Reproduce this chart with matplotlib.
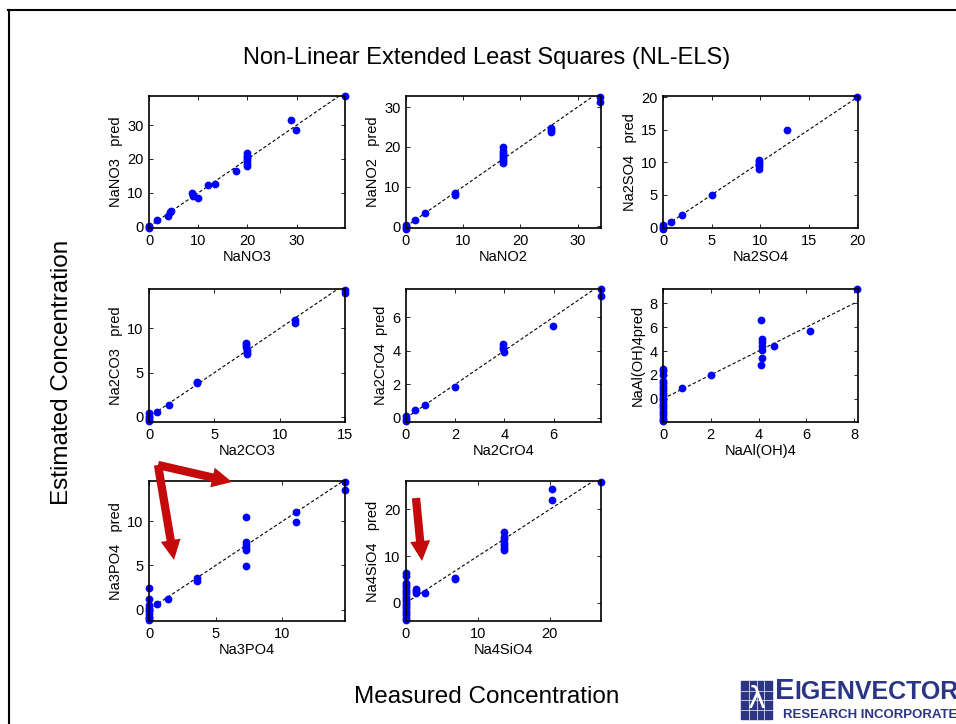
import matplotlib.pyplot as plt
from matplotlib.patches import FancyArrowPatch, Rectangle, ArrowStyle
from matplotlib.lines import Line2D
from matplotlib.ticker import MultipleLocator

plt.rcParams['font.family'] = ['Liberation Sans', 'DejaVu Sans']

W, H = 956, 724

# measured vs. predicted concentration for each component
names = ['NaNO3', 'NaNO2', 'Na2SO4', 'Na2CO3', 'Na2CrO4', 'NaAl(OH)4', 'Na3PO4', 'Na4SiO4']
ylabels = ['NaNO3   pred', 'NaNO2   pred', 'Na2SO4   pred', 'Na2CO3   pred',
           'Na2CrO4  pred', 'NaAl(OH)4pred', 'Na3PO4   pred', 'Na4SiO4   pred']

nano3_meas = [0, 0, 0, 1.7, 3.9, 4.2, 4.4, 8.8, 8.9, 9.0, 9.9, 12.0, 13.4, 17.7,
              19.9, 19.9, 19.9, 19.9, 19.9, 20.0, 20.0, 28.8, 29.9, 39.8]
nano3_pred = [-0.3, 0.0, 0.3, 2.1, 3.0, 4.4, 4.7, 10.0, 9.4, 9.0, 8.5, 12.2, 12.6, 16.5,
              21.8, 21.0, 20.0, 19.5, 18.5, 17.8, 20.5, 31.4, 28.6, 38.6]

nano2_meas = [0, 0, 0, 1.6, 3.4, 8.5, 8.5, 16.9, 16.9, 16.9, 16.9, 16.9, 16.9, 16.9, 17.0,
              25.4, 25.4, 25.4, 34.0, 34.0]
nano2_pred = [0.4, -0.1, -0.6, 1.7, 3.3, 7.9, 8.4, 19.9, 19.0, 18.5, 18.0, 17.5, 17.0, 16.5, 15.9,
              24.8, 24.3, 23.7, 32.6, 31.2]

na2so4_meas = [0, 0, 0, 0.8, 1.96, 5.0, 9.9, 9.9, 9.9, 9.9, 9.9, 12.8, 20.0]
na2so4_pred = [-0.3, 0.0, 0.3, 0.87, 1.94, 4.9, 10.4, 10.1, 9.7, 9.4, 9.0, 14.9, 20.05]

na2co3_meas = [0, 0, 0, 0, 0, 0.64, 1.5, 3.7, 3.7, 7.45, 7.45, 7.45, 7.5, 7.5, 7.5,
               11.2, 11.2, 15.0, 15.0]
na2co3_pred = [-0.5, -0.3, -0.1, 0.1, 0.4, 0.57, 1.4, 3.8, 3.9, 8.3, 8.1, 7.9, 7.6, 7.3, 7.1,
               11.0, 10.6, 14.3, 14.0]

na2cro4_meas = [0, 0, 0, 0.35, 0.79, 1.99, 3.95, 3.95, 3.95, 3.97, 5.96, 7.93, 7.93]
na2cro4_pred = [-0.2, -0.05, 0.1, 0.45, 0.75, 1.85, 4.37, 4.2, 4.1, 3.9, 5.47, 7.65, 7.26]

naaloh4_meas = [0] * 22 + [0.8, 2.0, 4.1, 4.15, 4.15, 4.15, 4.15, 4.15, 4.1, 4.65, 6.15, 8.13]
naaloh4_pred = [2.5, 2.3, 2.0, 1.5, 1.3, 1.1, 0.9, 0.7, 0.5, 0.3, 0.1, 0.0, -0.2, -0.4,
                -0.6, -0.8, -1.0, -1.2, -1.4, -1.6, -1.75, -1.9,
                0.9, 2.0, 6.6, 5.0, 4.75, 4.4, 4.1, 3.45, 2.8, 4.45, 5.67, 9.2]

na3po4_meas = [0] * 10 + [0.6, 1.46, 3.63, 3.63, 7.28, 7.3, 7.3, 7.3, 7.3, 7.28,
                          11.0, 11.0, 14.7, 14.7]
na3po4_pred = [2.4, 1.2, 0.5, 0.2, 0.0, -0.2, -0.5, -0.8, -1.0, -1.2,
               0.6, 1.25, 3.6, 3.2, 10.45, 7.6, 7.3, 7.0, 6.8, 4.9,
               11.05, 9.9, 14.45, 13.5]

na4sio4_meas = [0] * 19 + [1.4, 1.4, 1.4, 2.7, 6.8, 6.8, 13.6, 13.6, 13.6, 13.6, 13.6, 13.6, 13.6,
                           20.3, 20.3, 27.15]
na4sio4_pred = [6.3, 5.7, 4.3, 3.8, 3.3, 2.8, 2.3, 1.8, 1.3, 0.8, 0.3, -0.2, -0.7, -1.2,
                -1.7, -2.2, -2.7, -3.2, -3.7,
                3.0, 2.6, 2.0, 2.0, 5.35, 5.0, 15.1, 14.1, 13.6, 12.9, 12.3, 11.7, 11.3,
                24.4, 22.0, 25.9]

meas = [nano3_meas, nano2_meas, na2so4_meas, na2co3_meas,
        na2cro4_meas, naaloh4_meas, na3po4_meas, na4sio4_meas]
pred = [nano3_pred, nano2_pred, na2so4_pred, na2co3_pred,
        na2cro4_pred, naaloh4_pred, na3po4_pred, na4sio4_pred]

xlims = [(0, 39.8), (0, 34.1), (0, 20.07), (0, 15.0), (0, 7.93), (0, 8.16), (0, 14.7), (0, 27.15)]
ylims = [(-0.4, 38.6), (-0.4, 32.8), (-0.1, 20.2), (-0.57, 14.45), (-0.24, 7.67),
         (-1.95, 9.2), (-1.3, 14.57), (-3.9, 26.1)]
steps = [10, 10, 5, 5, 2, 2, 5, 10]

# axes boxes in pixels: left, right, top, bottom
cols = [(149, 345), (406, 601), (663, 858)]
rows = [(96, 228), (289, 422), (481, 621)]

fig = plt.figure(figsize=(W / 100, H / 100), dpi=100)

for i in range(len(names)):
    l, r = cols[i % 3]
    t, b = rows[i // 3]
    ax = fig.add_axes([l / W, 1 - b / H, (r - l) / W, (b - t) / H])
    top = max(meas[i])
    ax.plot([0, top], [0, top], '--', color='black', lw=0.8, dashes=(3, 2))
    ax.plot(meas[i], pred[i], 'o', color='#0000ff', ms=4.6, mec='#0000ff', clip_on=False)
    ax.set_xlim(xlims[i])
    ax.set_ylim(ylims[i])
    ax.xaxis.set_major_locator(MultipleLocator(steps[i]))
    ax.yaxis.set_major_locator(MultipleLocator(steps[i]))
    ax.tick_params(direction='in', top=True, right=True, length=3, width=0.6,
                   labelsize=10.5, pad=4)
    for s in ax.spines.values():
        s.set_linewidth(1.2)
    ax.set_xlabel(names[i], fontsize=10.5, labelpad=2)
    ax.set_ylabel(ylabels[i], fontsize=10.5, labelpad=3)

fig.text(487 / W, 1 - 58 / H, 'Non-Linear Extended Least Squares (NL-ELS)',
         ha='center', va='center', fontsize=17)
fig.text(62 / W, 1 - 372 / H, 'Estimated Concentration', rotation=90,
         ha='center', va='center', fontsize=17.5)
fig.text(487 / W, 1 - 697 / H, 'Measured Concentration',
         ha='center', va='center', fontsize=17.5)

# red arrows
arrows = [((158, 465), (232, 482)), ((158, 465), (174, 560)), ((416, 498), (422, 561))]
style = ArrowStyle.Simple(head_length=1.2, head_width=1.2, tail_width=0.5)
for (x1, y1), (x2, y2) in arrows:
    fig.add_artist(FancyArrowPatch((x1 / W, 1 - y1 / H), (x2 / W, 1 - y2 / H),
                                   transform=fig.transFigure, arrowstyle=style,
                                   mutation_scale=12, color='#c40a0a', lw=0,
                                   shrinkA=0, shrinkB=0))

# slide frame
fig.add_artist(Line2D([8.5 / W, 8.5 / W], [0, 1 - 10 / H], color='black', lw=1.5,
                      transform=fig.transFigure))
fig.add_artist(Line2D([8 / W, 1], [1 - 10 / H, 1 - 10 / H], color='black', lw=1.5,
                      transform=fig.transFigure))

# logo
navy = '#2b3585'
fig.add_artist(Rectangle((741 / W, 1 - 719 / H), 31 / W, 38 / H, color=navy,
                         transform=fig.transFigure))
for k in range(1, 4):
    fig.add_artist(Line2D([(741 + k * 7.75) / W] * 2, [1 - 719 / H, 1 - 681 / H],
                          color='white', lw=0.5, transform=fig.transFigure))
    fig.add_artist(Line2D([741 / W, 772 / W], [1 - (681 + k * 9.5) / H] * 2,
                          color='white', lw=0.5, transform=fig.transFigure))
fig.text(756 / W, 1 - 700 / H, 'λ', color='white', fontsize=22, ha='center', va='center',
         family='DejaVu Sans')
fig.text(775 / W, 1 - 699 / H, 'E', color=navy, fontsize=21, fontweight='bold',
         ha='left', va='baseline')
fig.text(794 / W, 1 - 699 / H, 'IGENVECTOR', color=navy, fontsize=18, fontweight='bold',
         ha='left', va='baseline')
fig.text(783 / W, 1 - 718 / H, 'RESEARCH INCORPORATED', color=navy, fontsize=9.5,
         fontweight='bold', ha='left', va='baseline')

fig.savefig('out.png', dpi=100)
